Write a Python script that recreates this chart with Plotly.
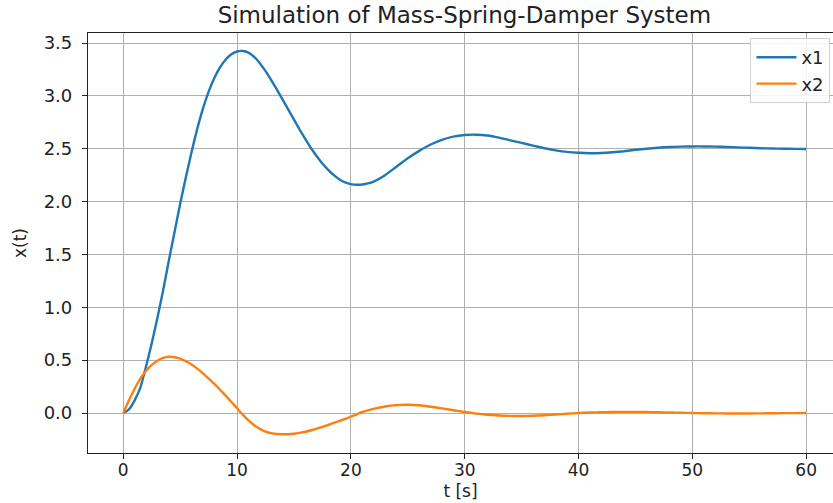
import plotly.graph_objects as go

# time samples (s)
t = [0, 0.5, 1, 1.5, 2, 2.5, 3, 3.5, 4, 4.5, 5, 5.5, 6, 6.5, 7, 7.5, 8, 8.5, 9, 9.5,
     10, 10.5, 11, 11.5, 12, 12.5, 13, 13.5, 14, 14.5, 15, 15.5, 16, 16.5, 17, 17.5,
     18, 18.5, 19, 19.5, 20, 20.5, 21, 21.5, 22, 23, 24, 25, 26, 27, 28, 29, 30, 31,
     32, 33, 34, 35, 36, 37, 38, 39, 40, 41, 42, 43, 44, 45, 46, 47, 48, 49, 50, 51,
     52, 53, 54, 55, 56, 57, 58, 59, 60]

# position x1
x1 = [0.0, 0.035, 0.12, 0.24, 0.44, 0.66, 0.9, 1.16, 1.44, 1.71, 1.98, 2.23, 2.47, 2.69,
      2.88, 3.04, 3.17, 3.27, 3.345, 3.395, 3.42, 3.425, 3.41, 3.37, 3.31, 3.235, 3.15,
      3.06, 2.965, 2.87, 2.775, 2.68, 2.59, 2.505, 2.43, 2.36, 2.3, 2.25, 2.21, 2.182,
      2.166, 2.16, 2.162, 2.172, 2.19, 2.25, 2.33, 2.41, 2.48, 2.54, 2.585, 2.615, 2.63,
      2.633, 2.625, 2.605, 2.58, 2.555, 2.53, 2.505, 2.485, 2.47, 2.462, 2.458, 2.46,
      2.467, 2.477, 2.49, 2.5, 2.51, 2.517, 2.52, 2.522, 2.522, 2.52, 2.517, 2.513, 2.509,
      2.505, 2.502, 2.5, 2.499, 2.498]

# velocity x2
x2 = [0.0, 0.12, 0.23, 0.325, 0.4, 0.455, 0.495, 0.522, 0.533, 0.528, 0.515, 0.49, 0.46,
      0.42, 0.375, 0.325, 0.275, 0.22, 0.165, 0.105, 0.045, -0.015, -0.07, -0.115, -0.15,
      -0.175, -0.19, -0.198, -0.2, -0.2, -0.196, -0.188, -0.177, -0.163, -0.148, -0.131,
      -0.113, -0.094, -0.075, -0.055, -0.035, -0.012, 0.01, 0.026, 0.04, 0.062, 0.075,
      0.078, 0.073, 0.06, 0.044, 0.027, 0.01, -0.005, -0.016, -0.023, -0.027, -0.028,
      -0.026, -0.021, -0.014, -0.007, 0.0, 0.005, 0.008, 0.01, 0.011, 0.011, 0.01, 0.008,
      0.005, 0.003, 0.0, -0.002, -0.003, -0.004, -0.004, -0.004, -0.003, -0.002, -0.001,
      -0.001, 0.0]

x_ticks = [0, 10, 20, 30, 40, 50, 60]
y_ticks = [0.0, 0.5, 1.0, 1.5, 2.0, 2.5, 3.0, 3.5]
y_tick_labels = ["0.0", "0.5", "1.0", "1.5", "2.0", "2.5", "3.0", "3.5"]

FONT = "DejaVu Sans"
TXT = "#222222"

fig = go.Figure()
fig.add_trace(go.Scatter(x=t, y=x1, mode="lines", name="x1",
                         line=dict(color="#1f77b4", width=2.4, shape="spline", smoothing=0.5)))
fig.add_trace(go.Scatter(x=t, y=x2, mode="lines", name="x2",
                         line=dict(color="#ff7f0e", width=2.4, shape="spline", smoothing=0.5)))

fig.update_layout(
    width=833, height=503,
    margin=dict(l=88, r=0, t=33, b=50),
    paper_bgcolor="white", plot_bgcolor="white",
    font=dict(family=FONT, size=17, color=TXT),
    title=dict(text="Simulation of Mass-Spring-Damper System", x=0.5575, xanchor="center",
               y=0.97, yanchor="middle", font=dict(family=FONT, size=23, color=TXT)),
    showlegend=True,
    legend=dict(x=0.9966, xanchor="right", y=0.988, yanchor="top",
                bgcolor="rgba(255,255,255,0.85)", bordercolor="#d0d0d0", borderwidth=1,
                font=dict(family=FONT, size=18, color=TXT),
                itemwidth=40, tracegroupgap=0),
)

fig.update_xaxes(
    range=[-3.1, 62.36], tickvals=x_ticks, ticktext=[str(v) for v in x_ticks],
    showgrid=True, gridcolor="#b0b0b0", gridwidth=1,
    showline=True, linecolor="#222222", linewidth=1.2, mirror=True,
    ticks="outside", ticklen=5, tickcolor="#222222", zeroline=False,
    tickfont=dict(family=FONT, size=17), ticklabelstandoff=-4,
    title=dict(text="t [s]", standoff=6, font=dict(family=FONT, size=17)),
)
fig.update_yaxes(
    range=[-0.378, 3.595], tickvals=y_ticks, ticktext=y_tick_labels,
    showgrid=True, gridcolor="#b0b0b0", gridwidth=1,
    showline=True, linecolor="#222222", linewidth=1.2, mirror=False,
    ticks="outside", ticklen=5, tickcolor="#222222", zeroline=False,
    tickfont=dict(family=FONT, size=18), ticklabelstandoff=6,
    title=dict(text="x(t)", standoff=12, font=dict(family=FONT, size=17)),
)

fig.write_html("out.html")
